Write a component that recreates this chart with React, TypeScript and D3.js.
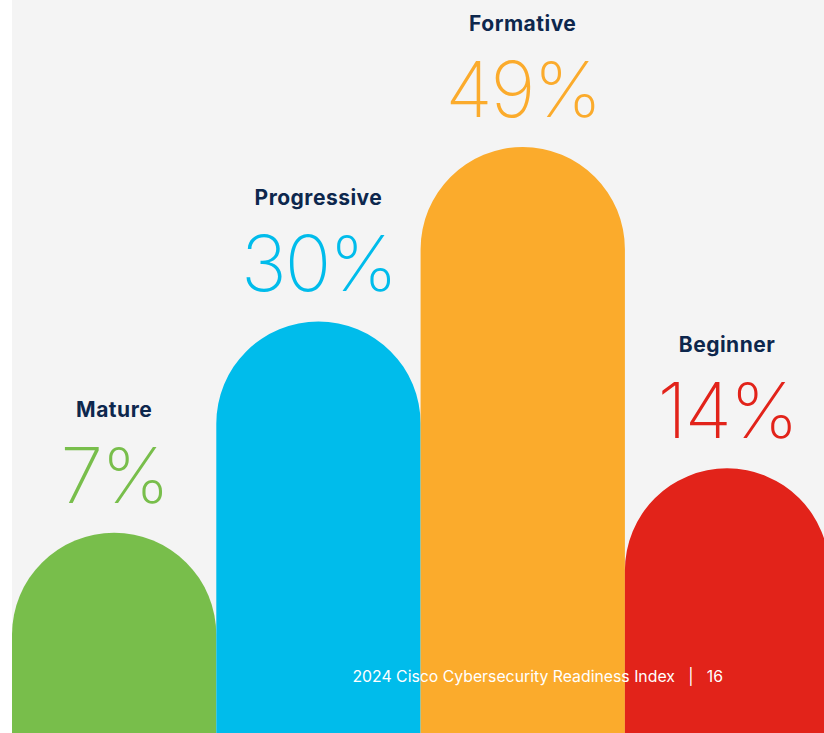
import React from "react";
import * as d3 from "d3";

const categories = ["Mature", "Progressive", "Formative", "Beginner"];
const values = [7, 30, 49, 14];
const colors = ["#78be4b", "#00bceb", "#fbab2c", "#e2231a"];
const footer = "2024 Cisco Cybersecurity Readiness Index\u00a0\u00a0\u00a0|\u00a0\u00a0\u00a016";

const W = 824;
const H = 733;

export default function App() {
  const x = d3.scaleBand().domain(categories).range([12, 12 + 4 * 204.3]).padding(0);
  const y = d3.scaleLinear().domain([0, 49]).range([597, 147]);
  const bw = x.bandwidth();
  const r = bw / 2;

  const barPath = (x0: number, top: number) => {
    const p = d3.path();
    p.moveTo(x0, H + 10);
    p.lineTo(x0, top + r);
    p.arc(x0 + r, top + r, r, Math.PI, 0);
    p.lineTo(x0 + bw, H + 10);
    p.closePath();
    return p.toString();
  };

  return (
    <svg
      width={W}
      height={H}
      style={{ position: "absolute", left: 0, top: 0, display: "block" }}
      fontFamily="Inter, 'Noto Sans', sans-serif"
    >
      <rect x={0} y={0} width={W} height={H} fill="#ffffff" />
      <rect x={12} y={0} width={W - 12} height={H} fill="#f4f4f4" />
      {categories.map((c, i) => {
        const x0 = x(c)!;
        const top = y(values[i]);
        const cx = x0 + r;
        return (
          <g key={c}>
            <path d={barPath(x0, top)} fill={colors[i]} />
            <text
              x={cx}
              y={top - 116}
              textAnchor="middle"
              fontSize={21}
              fontWeight={700}
              letterSpacing={0.5}
              fill="#0d274d"
            >
              {c}
            </text>
            <text
              x={cx}
              y={top - 30}
              textAnchor="middle"
              fontSize={77}
              fontWeight={200}
              letterSpacing={-2}
              fill={colors[i]}
            >
              {values[i]}%
            </text>
          </g>
        );
      })}
      <text x={723} y={682} textAnchor="end" fontSize={15.8} fill="#ffffff">
        {footer}
      </text>
    </svg>
  );
}
